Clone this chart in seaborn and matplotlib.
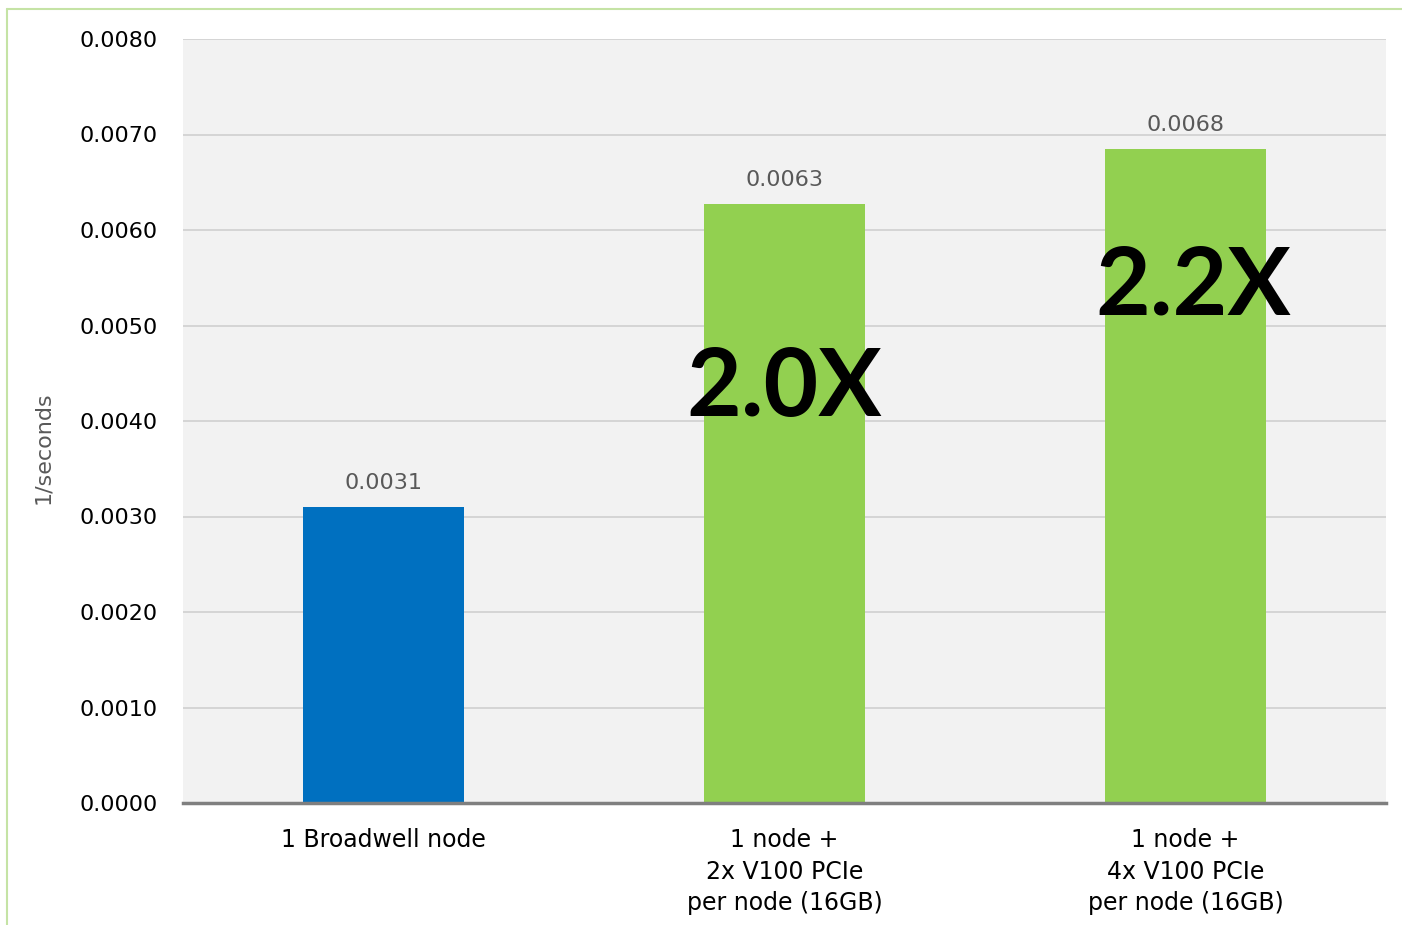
import matplotlib
matplotlib.use("Agg")
import matplotlib.pyplot as plt
from matplotlib.lines import Line2D
import pandas as pd
import seaborn as sns

# chart values
categories = ["1 Broadwell node",
              "1 node +\n2x V100 PCIe\nper node (16GB)",
              "1 node +\n4x V100 PCIe\nper node (16GB)"]
throughput = [0.0031, 0.00627, 0.00685]
value_labels = ["0.0031", "0.0063", "0.0068"]
speedup_labels = ["", "2.0X", "2.2X"]
speedup_x = [0, 1.0, 2.02]
speedup_y = [0, 0.00433, 0.00540]
bar_colors = ["#0070c0", "#92d050", "#92d050"]
y_ticks = [0.0, 0.001, 0.002, 0.003, 0.004, 0.005, 0.006, 0.007, 0.008]

df = pd.DataFrame({"config": categories, "value": throughput})

sns.set_style("white")
plt.rcParams["font.family"] = ["DejaVu Sans"]

fig = plt.figure(figsize=(14.02, 9.25), dpi=100)
ax = fig.add_axes([183 / 1402, 1 - 803 / 925, 1203 / 1402, 764 / 925])
ax.set_facecolor("#f2f2f2")

sns.barplot(data=df, x="config", y="value", hue="config", palette=bar_colors,
            width=0.40, saturation=1, legend=False, linewidth=0, ax=ax, zorder=3)

ax.set_xlim(-0.5, 2.5)
ax.set_ylim(0, 0.008)
ax.set_yticks(y_ticks)
ax.set_yticklabels([f"{t:.4f}" for t in y_ticks], fontsize=16)
ax.tick_params(axis="x", labelsize=17, length=0, pad=18, labelcolor="black")
ax.tick_params(axis="y", length=0, pad=18, labelcolor="black")
for t in ax.get_xticklabels():
    t.set_linespacing(1.4)
ax.grid(axis="y", color="#d0d0d0", linewidth=1.2, zorder=0)
ax.set_axisbelow(True)

for s in ["top", "right", "left"]:
    ax.spines[s].set_visible(False)
ax.spines["bottom"].set_color("#7f7f7f")
ax.spines["bottom"].set_linewidth(2.5)
ax.spines["bottom"].set_zorder(5)

ax.set_xlabel("")
ax.set_ylabel("1/seconds", fontsize=16, color="#595959")
ax.yaxis.set_label_coords(-0.108, 0.465)

for i, (v, lab) in enumerate(zip(throughput, value_labels)):
    ax.annotate(lab, (i, v), xytext=(0, 10), textcoords="offset points",
                ha="center", va="bottom", fontsize=16, color="#595959")

for lab, xx, yy in zip(speedup_labels, speedup_x, speedup_y):
    if lab:
        ax.text(xx, yy, lab, ha="center", va="center", fontsize=68,
                fontweight="bold", color="black", family="Lato", zorder=6)

# thin green frame at top and left of the slide
frame_c = "#c5e3a5"
fig.add_artist(Line2D([7 / 1402, 1.0], [1 - 9 / 925, 1 - 9 / 925],
                      color=frame_c, linewidth=1.5, transform=fig.transFigure))
fig.add_artist(Line2D([7 / 1402, 7 / 1402], [0.0, 1 - 9 / 925],
                      color=frame_c, linewidth=1.5, transform=fig.transFigure))

fig.savefig("out.png", dpi=100, facecolor="white")
